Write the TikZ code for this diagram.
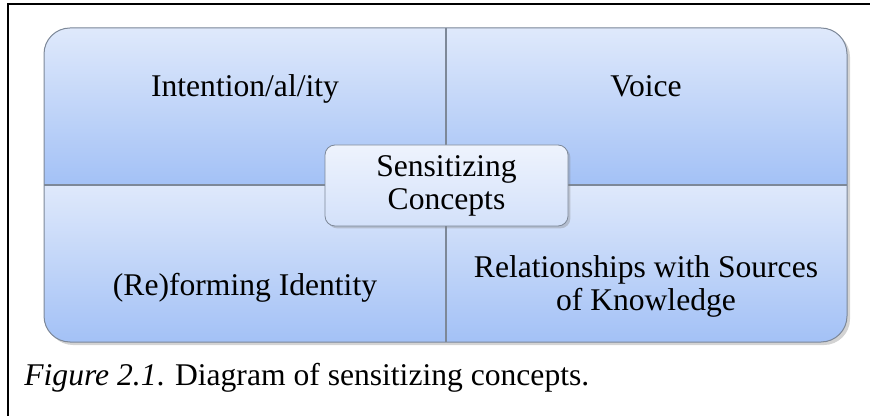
\documentclass[tikz,border=0pt]{standalone}
\usepackage{fontspec}
\setmainfont{Liberation Serif}
\usetikzlibrary{shadows, positioning}
\definecolor{quadtop}{HTML}{DFE9FB}
\definecolor{quadbot}{HTML}{A3C1F6}
\definecolor{hubtop}{HTML}{EEF3FD}
\definecolor{hubbot}{HTML}{D3E1FA}
\definecolor{edgegray}{HTML}{7D8898}

\begin{document}
\begin{tikzpicture}[
	x=0.5pt, y=-0.5pt,
	every node/.style={font=\fontsize{15.8}{16.5}\selectfont, inner sep=0pt},
	quadtext/.style={align=center},
	hub/.style={rectangle, draw=edgegray, rounded corners=5pt, top color=hubtop, bottom color=hubbot, minimum width=121.5pt, minimum height=40.5pt, align=center, drop shadow={shadow xshift=1.2pt, shadow yshift=-1.2pt, opacity=0.35}},
	divider/.style={draw=edgegray, line width=0.6pt}
]
\useasboundingbox (0,0) rectangle (870,416);

% Frame of the figure
\coordinate (frameR) at (870,4);
\coordinate (frameC) at (8,4);
\coordinate (frameB) at (8,416);
\draw[line width=1pt] (frameR) -- (frameC) -- (frameB);

% Outer block
\coordinate (nw) at (44,28);
\coordinate (se) at (847,342);
\coordinate (topmid) at (446,28);
\coordinate (botmid) at (446,342);
\coordinate (leftmid) at (44,185);
\coordinate (rightmid) at (847,185);
\path[rounded corners=13pt, fill=quadbot, drop shadow={shadow xshift=1.5pt, shadow yshift=-1.5pt, opacity=0.35}] (nw) rectangle (se);
\begin{scope}
	\clip[rounded corners=13pt] (nw) rectangle (se);
	\shade[top color=quadtop, bottom color=quadbot] (nw) rectangle (rightmid);
	\shade[top color=quadtop, bottom color=quadbot] (leftmid) rectangle (se);
\end{scope}
\draw[edgegray, line width=0.5pt, rounded corners=13pt] (nw) rectangle (se);
\draw[divider] (topmid) -- (botmid);
\draw[divider] (leftmid) -- (rightmid);

% Quadrant texts
\node[quadtext, anchor=base] (intent) at (245,97) {Intention/al/ity};
\node[quadtext, anchor=base] (voice) at (646,97) {Voice};
\node[quadtext, anchor=base] (identity) at (245,295) {(Re)forming Identity};
\node[quadtext] (sources) at (646,286) {Relationships with Sources\\ of Knowledge};

% Centre
\node[hub] (hub) at (446.5,185.5) {Sensitizing\\ Concepts};

% Caption
\node[anchor=base west] (caption) at (24,385) {\textit{Figure 2.1}. Diagram of sensitizing concepts.};

\end{tikzpicture}
\end{document}
